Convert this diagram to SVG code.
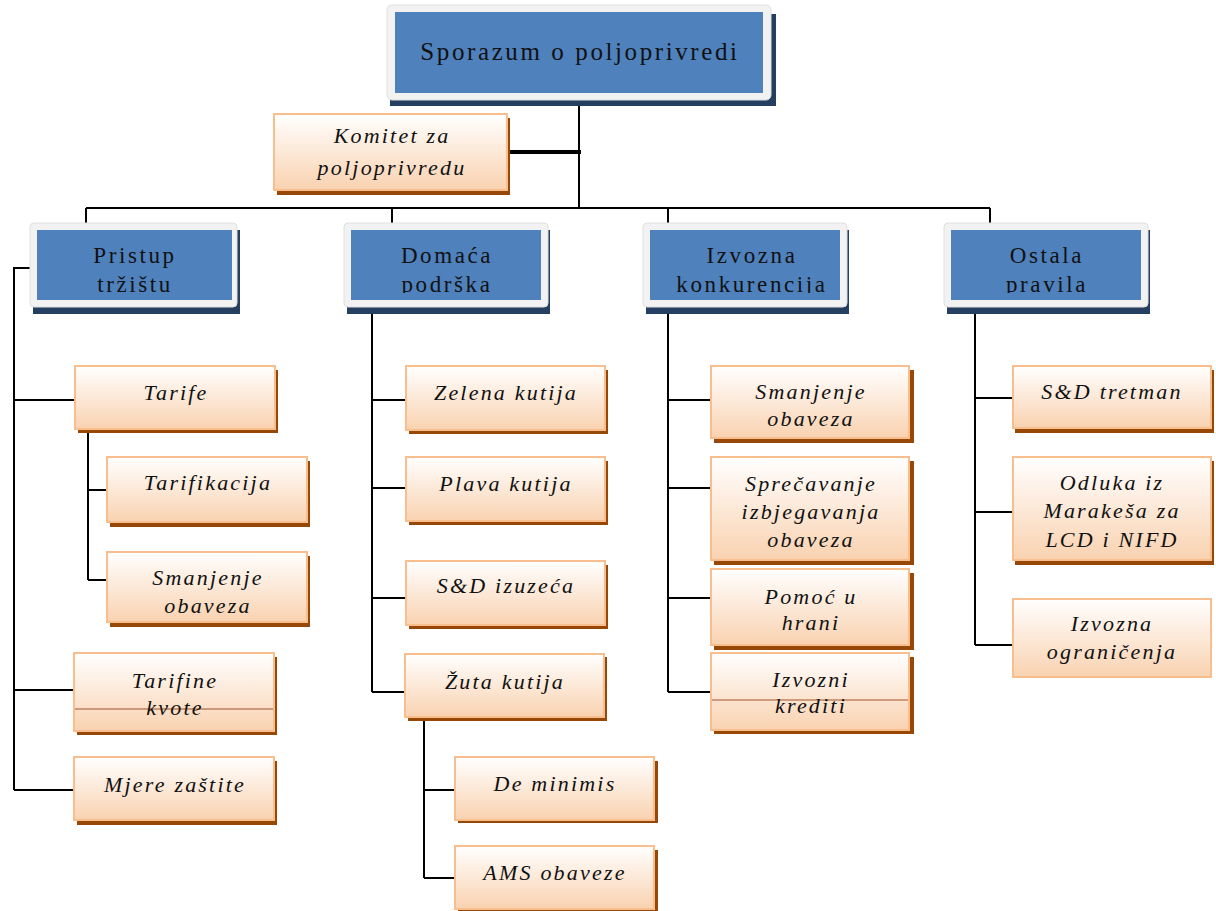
<svg xmlns="http://www.w3.org/2000/svg" width="1216" height="911" viewBox="0 0 1216 911">
<defs>
<linearGradient id="og" x1="0" y1="0" x2="0" y2="1">
<stop offset="0" stop-color="#FFFFFF"/>
<stop offset="1" stop-color="#F9D2B0"/>
</linearGradient>
<clipPath id="c1"><rect x="37" y="230" width="195" height="63"/></clipPath>
<clipPath id="c2"><rect x="351" y="230" width="190" height="63"/></clipPath>
<clipPath id="c3"><rect x="650" y="230" width="190" height="63"/></clipPath>
<clipPath id="c4"><rect x="951" y="230" width="190" height="63"/></clipPath>
</defs>
<style>
.sh{fill:#243F60}
.fr{fill:#F2F2F2;stroke:#E0E0E0;stroke-width:1}
.bl{fill:#4F81BD}
.bt{font-family:"Liberation Serif",serif;font-size:23px;fill:#111;text-anchor:middle;letter-spacing:2.6px}
.os{fill:#984806}
.ob{fill:url(#og);stroke:#F9BE8E;stroke-width:2}
.ot{font-family:"Liberation Serif",serif;font-style:italic;font-size:22px;fill:#111;text-anchor:middle;letter-spacing:2.2px}
.ln{stroke:#000;stroke-width:2;fill:none}
.thin{stroke:#A0522D;stroke-width:1}
</style>
<rect width="1216" height="911" fill="#FFFFFF"/>
<g id="connectors">
<path class="ln" d="M579 100V208M86 208H990M86 208V226M392 208V226M668 208V226M990 208V226"/>
<path d="M506 152H581" stroke="#000" stroke-width="4"/>
<path class="ln" d="M30 268H14V790M14 400H76M14 690H76M14 790H76"/>
<path class="ln" d="M88 430V580M88 490H108M88 580H108"/>
<path class="ln" d="M372 314V692M372 400H406M372 488H406M372 598H406M372 692H406"/>
<path class="ln" d="M424 717V878M424 790H455M424 878H455"/>
<path class="ln" d="M668 314V692M668 400H712M668 488H712M668 598H712M668 692H712"/>
<path class="ln" d="M975 314V645M975 398H1013M975 512H1013M975 645H1013"/>
</g>
<g id="n-sporazum">
<rect class="sh" x="390" y="14" width="386" height="92"/>
<rect class="fr" x="387" y="5" width="384" height="95" rx="5"/>
<rect class="bl" x="395" y="12" width="368" height="81"/>
<text x="580" y="60" font-family="Liberation Serif,serif" font-size="25" fill="#111" text-anchor="middle" letter-spacing="2.6">Sporazum o poljoprivredi</text>
</g>
<g id="n-komitet">
<rect class="os" x="277" y="118" width="233" height="77"/>
<rect class="ob" x="274" y="114" width="233" height="76"/>
<text class="ot" x="392" y="143">Komitet za</text>
<text class="ot" x="392" y="175">poljoprivredu</text>
</g>
<g id="n-pristup">
<rect class="sh" x="33" y="230" width="207" height="84"/>
<rect class="fr" x="30" y="223" width="207" height="84" rx="4"/>
<rect class="bl" x="37" y="230" width="195" height="70"/>
<g clip-path="url(#c1)"><text class="bt" x="135" y="263">Pristup</text><text class="bt" x="135" y="292">tržištu</text></g>
</g>
<g id="n-domaca">
<rect class="sh" x="347" y="230" width="203" height="84"/>
<rect class="fr" x="344" y="223" width="204" height="84" rx="4"/>
<rect class="bl" x="351" y="230" width="190" height="70"/>
<g clip-path="url(#c2)"><text class="bt" x="447" y="263">Domaća</text><text class="bt" x="447" y="292">podrška</text></g>
</g>
<g id="n-izvozna">
<rect class="sh" x="646" y="230" width="203" height="84"/>
<rect class="fr" x="643" y="223" width="204" height="84" rx="4"/>
<rect class="bl" x="650" y="230" width="190" height="70"/>
<g clip-path="url(#c3)"><text class="bt" x="752" y="263">Izvozna</text><text class="bt" x="752" y="292">konkurencija</text></g>
</g>
<g id="n-ostala">
<rect class="sh" x="947" y="230" width="203" height="84"/>
<rect class="fr" x="944" y="223" width="204" height="84" rx="4"/>
<rect class="bl" x="951" y="230" width="190" height="70"/>
<g clip-path="url(#c4)"><text class="bt" x="1047" y="263">Ostala</text><text class="bt" x="1047" y="292">pravila</text></g>
</g>
<g id="n-tarife">
<rect class="os" x="78" y="370" width="200" height="63"/>
<rect class="ob" x="75" y="366" width="200" height="63"/>
<text class="ot" x="176" y="400">Tarife</text>
</g>
<g id="n-tarifikacija">
<rect class="os" x="110" y="461" width="200" height="66"/>
<rect class="ob" x="107" y="457" width="200" height="65"/>
<text class="ot" x="208" y="490">Tarifikacija</text>
</g>
<g id="n-smanjenje1">
<rect class="os" x="110" y="556" width="200" height="71"/>
<rect class="ob" x="107" y="552" width="200" height="70"/>
<text class="ot" x="208" y="585">Smanjenje</text>
<text class="ot" x="208" y="613">obaveza</text>
</g>
<g id="n-tarifine">
<rect class="os" x="77" y="657" width="200" height="78"/>
<rect class="ob" x="74" y="653" width="200" height="78"/>
<line class="thin" x1="75" y1="709" x2="273" y2="709"/>
<text class="ot" x="175" y="688">Tarifine</text>
<text class="ot" x="175" y="715">kvote</text>
</g>
<g id="n-mjere">
<rect class="os" x="77" y="761" width="200" height="64"/>
<rect class="ob" x="74" y="757" width="200" height="63"/>
<text class="ot" x="175" y="792">Mjere zaštite</text>
</g>
<g id="n-zelena">
<rect class="os" x="409" y="370" width="199" height="64"/>
<rect class="ob" x="406" y="366" width="199" height="64"/>
<text class="ot" x="506" y="400">Zelena kutija</text>
</g>
<g id="n-plava">
<rect class="os" x="409" y="461" width="199" height="64"/>
<rect class="ob" x="406" y="457" width="199" height="64"/>
<text class="ot" x="506" y="491">Plava kutija</text>
</g>
<g id="n-sd-izuzeca">
<rect class="os" x="409" y="565" width="199" height="64"/>
<rect class="ob" x="406" y="561" width="199" height="64"/>
<text class="ot" x="506" y="593">S&amp;D izuzeća</text>
</g>
<g id="n-zuta">
<rect class="os" x="408" y="657" width="199" height="64"/>
<rect class="ob" x="405" y="654" width="199" height="63"/>
<text class="ot" x="505" y="689">Žuta kutija</text>
</g>
<g id="n-deminimis">
<rect class="os" x="458" y="761" width="200" height="62"/>
<rect class="ob" x="455" y="757" width="199" height="63"/>
<text class="ot" x="555" y="791">De minimis</text>
</g>
<g id="n-ams">
<rect class="os" x="458" y="850" width="200" height="62"/>
<rect class="ob" x="455" y="846" width="199" height="63"/>
<text class="ot" x="555" y="880">AMS obaveze</text>
</g>
<g id="n-smanjenje2">
<rect class="os" x="714" y="370" width="200" height="73"/>
<rect class="ob" x="711" y="366" width="198" height="72"/>
<text class="ot" x="811" y="399">Smanjenje</text>
<text class="ot" x="811" y="426">obaveza</text>
</g>
<g id="n-sprecavanje">
<rect class="os" x="714" y="461" width="200" height="104"/>
<rect class="ob" x="711" y="457" width="198" height="103"/>
<text class="ot" x="811" y="491">Sprečavanje</text>
<text class="ot" x="811" y="519">izbjegavanja</text>
<text class="ot" x="811" y="547">obaveza</text>
</g>
<g id="n-pomoc">
<rect class="os" x="714" y="573" width="200" height="77"/>
<rect class="ob" x="711" y="569" width="198" height="76"/>
<text class="ot" x="811" y="604">Pomoć u</text>
<text class="ot" x="811" y="630">hrani</text>
</g>
<g id="n-krediti">
<rect class="os" x="714" y="657" width="200" height="77"/>
<rect class="ob" x="711" y="653" width="198" height="77"/>
<line class="thin" x1="712" y1="700" x2="908" y2="700"/>
<text class="ot" x="811" y="687">Izvozni</text>
<text class="ot" x="811" y="713">krediti</text>
</g>
<g id="n-sd-tretman">
<rect class="os" x="1015" y="370" width="199" height="63"/>
<rect class="ob" x="1013" y="366" width="198" height="62"/>
<text class="ot" x="1112" y="399">S&amp;D tretman</text>
</g>
<g id="n-odluka">
<rect class="os" x="1015" y="461" width="199" height="104"/>
<rect class="ob" x="1013" y="457" width="198" height="103"/>
<text class="ot" x="1112" y="490">Odluka iz</text>
<text class="ot" x="1112" y="518">Marakeša za</text>
<text class="ot" x="1112" y="547">LCD i NIFD</text>
</g>
<g id="n-ogranicenja">
<rect class="ob" x="1013" y="599" width="198" height="78"/>
<text class="ot" x="1112" y="631">Izvozna</text>
<text class="ot" x="1112" y="659">ograničenja</text>
</g>
</svg>
